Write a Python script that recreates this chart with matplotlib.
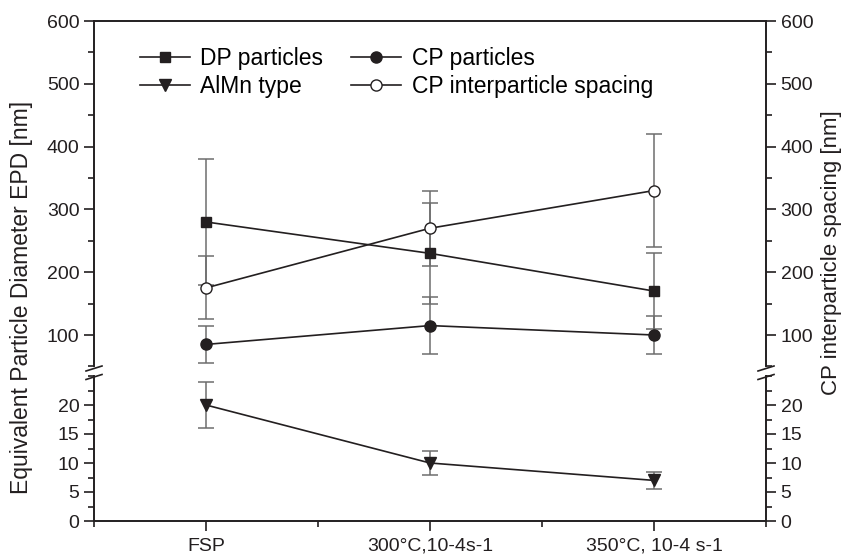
import matplotlib.pyplot as plt
from matplotlib.lines import Line2D
from matplotlib.ticker import MultipleLocator

plt.rcParams['font.family'] = ['Liberation Sans', 'DejaVu Sans']

categories = ["FSP", "300°C,10-4s-1", "350°C, 10-4 s-1"]
dp = [280, 230, 170]
dp_err = [100, 80, 60]
cp = [85, 115, 100]
cp_err = [30, 45, 30]
cp_spacing = [175, 270, 330]
cp_spacing_err = [50, 60, 90]
almn = [20, 10, 7]
almn_err = [4, 2, 1.5]

W, H = 845, 554
INK = '#231f20'
BAR = '#6d6d6d'


def px(x, y):
    return x / W, 1 - y / H


def series(ax, y, err, marker, ms, face, label):
    x = range(1, len(y) + 1)
    ax.errorbar(x, y, yerr=err, fmt='none', ecolor=BAR, elinewidth=1.1,
                capsize=6, capthick=1.1, zorder=2)
    line, = ax.plot(x, y, color=INK, lw=1.2, marker=marker, ms=ms,
                    mfc=face, mec=INK, mew=1.0, label=label, zorder=3)
    return line


def style_axis(ax):
    for s in ax.spines.values():
        s.set_linewidth(1.4)
        s.set_color(INK)
    ax.tick_params(axis='y', which='both', direction='out', left=True, right=True,
                   labelleft=True, labelright=True, labelsize=14, colors=INK, width=1.2)
    ax.tick_params(axis='y', which='major', length=7)
    ax.tick_params(axis='y', which='minor', length=4)
    ax.set_xlim(0.5, 3.5)


def main():
    fig = plt.figure(figsize=(W / 100, H / 100), dpi=100)

    l, b = px(94, 366.4)
    r, t = px(766, 21)
    ax_top = fig.add_axes([l, b, r - l, t - b])
    l, b = px(94, 521)
    r, t = px(766, 376)
    ax_bot = fig.add_axes([l, b, r - l, t - b])

    h_dp = series(ax_top, dp, dp_err, 's', 6.5, INK, 'DP particles')
    h_cp = series(ax_top, cp, cp_err, 'o', 8, INK, 'CP particles')
    h_sp = series(ax_top, cp_spacing, cp_spacing_err, 'o', 8, 'white', 'CP interparticle spacing')
    h_al = series(ax_bot, almn, almn_err, 'v', 9, INK, 'AlMn type')

    ax_top.set_ylim(50, 600)
    ax_top.yaxis.set_minor_locator(MultipleLocator(50))
    ax_top.set_yticks([100, 200, 300, 400, 500, 600])
    ax_top.spines['bottom'].set_visible(False)
    ax_top.tick_params(axis='x', which='both', bottom=False, top=False, labelbottom=False)
    style_axis(ax_top)

    ax_bot.set_ylim(0, 25)
    ax_bot.set_yticks([0, 5, 10, 15, 20])
    ax_bot.yaxis.set_minor_locator(MultipleLocator(2.5))
    ax_bot.spines['top'].set_visible(False)
    style_axis(ax_bot)
    ax_bot.set_xticks([1, 2, 3])
    ax_bot.set_xticklabels(categories)
    ax_bot.xaxis.set_minor_locator(MultipleLocator(0.5))
    ax_bot.tick_params(axis='x', which='both', direction='out', top=False,
                       labelsize=14, colors=INK, width=1.2)
    ax_bot.tick_params(axis='x', which='major', length=7, pad=5)
    ax_bot.tick_params(axis='x', which='minor', length=4)

    # axis break marks
    for x0 in (94, 766):
        for y0 in (368.5, 377):
            x1, y1 = px(x0 - 8, y0 + 2.5)
            x2, y2 = px(x0 + 8, y0 - 2.5)
            fig.add_artist(Line2D([x1, x2], [y1, y2], color=INK, lw=1.2))

    ax_top.legend([h_dp, h_al, h_cp, h_sp],
                  ['DP particles', 'AlMn type', 'CP particles', 'CP interparticle spacing'],
                  loc='upper left', bbox_to_anchor=(0.068, 0.925), ncol=2, frameon=False,
                  fontsize=16.5, handlelength=2.2, handletextpad=0.45,
                  labelspacing=0.22, columnspacing=1.2, borderaxespad=0, borderpad=0)

    fig.text(*px(22, 297), 'Equivalent Particle Diameter EPD [nm]', rotation=90,
             ha='center', va='center', fontsize=16.5, color=INK)
    fig.text(*px(832, 253), 'CP interparticle spacing [nm]', rotation=90,
             ha='center', va='center', fontsize=16, color=INK)

    fig.savefig('out.png', dpi=100)


main()
